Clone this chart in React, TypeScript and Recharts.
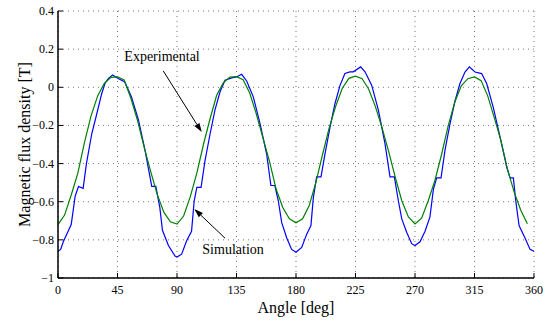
import { LineChart, Line, XAxis, YAxis, CartesianGrid, ReferenceLine, ReferenceDot } from 'recharts';

// simulated flux density (deg, T)
const simAngle = [
  0, 2, 4, 10, 13, 15.5, 19, 21.5, 25.5, 29.3, 33, 35.5, 38, 41.3, 45.5, 50.5, 55.5, 60.8, 65.8, 70.9, 74, 77, 79, 83.5, 88.5, 90,
  93.5, 97.3, 101, 103, 105, 108.2, 111.2, 115, 118.7, 122.5, 126.3, 131.4, 135, 138.9, 142.7, 147.7, 152.8, 157.8, 161, 164, 166.6, 169.2, 173, 176.7, 180,
  184.3, 188.1, 191.3, 193.1, 195.6, 198.9, 201.9, 205.7, 209.5, 213.3, 217, 220.8, 223.3, 228.9, 232.2, 237.3, 242.3, 247.3, 251.1, 254.4, 257.4, 260, 263.7, 267.5, 270,
  273.8, 277.6, 281.3, 283.9, 286.4, 289.7, 292.7, 296.5, 300.3, 304, 307.8, 311.1, 315.4, 320.4, 324.2, 329.2, 334.3, 339.4, 341.9, 344.4, 346.2, 348.7, 353.2, 357, 360,
];
const simValue = [
  -0.86, -0.85, -0.81, -0.72, -0.57, -0.52, -0.53, -0.4, -0.245, -0.14, -0.035, 0.02, 0.045, 0.065, 0.046, 0.028, -0.05, -0.17, -0.33, -0.52, -0.52, -0.63, -0.75, -0.83, -0.885, -0.89,
  -0.875, -0.805, -0.755, -0.595, -0.525, -0.525, -0.385, -0.245, -0.12, -0.025, 0.037, 0.049, 0.054, 0.068, 0.033, -0.05, -0.19, -0.35, -0.515, -0.515, -0.595, -0.71, -0.79, -0.85, -0.865,
  -0.84, -0.77, -0.725, -0.58, -0.47, -0.47, -0.35, -0.21, -0.085, 0.01, 0.072, 0.081, 0.081, 0.107, 0.081, 0.01, -0.12, -0.295, -0.47, -0.47, -0.595, -0.69, -0.76, -0.82, -0.83,
  -0.81, -0.755, -0.68, -0.535, -0.475, -0.475, -0.33, -0.19, -0.07, 0.02, 0.08, 0.107, 0.08, 0.072, 0.02, -0.105, -0.26, -0.42, -0.475, -0.475, -0.595, -0.725, -0.79, -0.85, -0.86,
];

// measured, every 5 deg from 0 to 355
const expAngle = Array.from({ length: 72 }, (_, i) => i * 5);
const expValue = [
  -0.72, -0.67, -0.565, -0.45, -0.29, -0.15, -0.045, 0.02, 0.052, 0.055, 0.038, -0.055, -0.17, -0.31, -0.44, -0.56, -0.655, -0.705,
  -0.717, -0.675, -0.575, -0.45, -0.3, -0.165, -0.042, 0.023, 0.054, 0.056, 0.04, -0.03, -0.14, -0.265, -0.39, -0.535, -0.63, -0.69,
  -0.71, -0.69, -0.62, -0.5, -0.355, -0.215, -0.1, -0.005, 0.047, 0.058, 0.045, -0.01, -0.1, -0.21, -0.335, -0.47, -0.595, -0.68,
  -0.717, -0.686, -0.595, -0.49, -0.355, -0.205, -0.08, 0.008, 0.045, 0.054, 0.035, -0.045, -0.16, -0.28, -0.43, -0.55, -0.645, -0.715,
];

const xTicks = [0, 45, 90, 135, 180, 225, 270, 315, 360];
const yTicks = [-1, -0.8, -0.6, -0.4, -0.2, 0, 0.2, 0.4];

// arrow callouts: label position, arrow tail and head (deg, T)
const notes = [
  { text: 'Experimental', at: [78.7, 0.137], from: [79.6, 0.086], to: [108.7, -0.235] },
  { text: 'Simulation', at: [132.4, -0.874], from: [126.3, -0.791], to: [103.1, -0.638] },
];

const simData = simAngle.map((a, i) => ({ angle: a, value: simValue[i] }));
const expData = expAngle.map((a, i) => ({ angle: a, value: expValue[i] }));

const FONT = 'Liberation Serif, serif';
const fmt = (v: number) => (v < 0 ? '\u2212' + String(Math.abs(v)) : String(v));

const BottomTick = ({ x, y, payload }: any) => (
  <g>
    <line x1={x} x2={x} y1={y} y2={y - 5} stroke="#000" />
    <text x={x} y={y + 15.5} textAnchor="middle" fontSize={12} fontFamily={FONT} fill="#000">{payload.value}</text>
  </g>
);
const TopTick = ({ x, y }: any) => <line x1={x} x2={x} y1={y} y2={y + 5} stroke="#000" />;
const LeftTick = ({ x, y, payload }: any) => (
  <g>
    <line x1={x} x2={x + 5} y1={y} y2={y} stroke="#000" />
    <text x={x - 4} y={y + 4} textAnchor="end" fontSize={12} fontFamily={FONT} fill="#000">{fmt(payload.value)}</text>
  </g>
);
const RightTick = ({ x, y }: any) => <line x1={x} x2={x - 5} y1={y} y2={y} stroke="#000" />;

const YLabel = ({ viewBox }: any) => {
  const x = viewBox.x + 30;
  const y = viewBox.y + viewBox.height / 2;
  return (
    <text x={x} y={y} transform={`rotate(-90, ${x}, ${y})`} textAnchor="middle" fontSize={16} fontFamily={FONT} fill="#000">
      Magnetic flux density [T]
    </text>
  );
};

const Arrow = ({ x1, y1, x2, y2 }: any) => {
  const ang = Math.atan2(y2 - y1, x2 - x1);
  const len = 9;
  const w = 3;
  const bx = x2 - len * Math.cos(ang);
  const by = y2 - len * Math.sin(ang);
  const px = -Math.sin(ang) * w;
  const py = Math.cos(ang) * w;
  return (
    <g>
      <line x1={x1} y1={y1} x2={bx} y2={by} stroke="#000" strokeWidth={1} />
      <polygon points={`${x2},${y2} ${bx + px},${by + py} ${bx - px},${by - py}`} fill="#000" />
    </g>
  );
};

export default function App() {
  return (
    <div style={{ position: 'absolute', left: 0, top: 0, background: '#fff' }}>
      <LineChart width={548} height={322} margin={{ top: 11, right: 14, bottom: 0, left: 0 }}>
        <CartesianGrid xAxisId="bottom" yAxisId="left" stroke="#777" strokeDasharray="1 4" />
        <XAxis
          xAxisId="bottom"
          dataKey="angle"
          type="number"
          domain={[0, 360]}
          ticks={xTicks}
          height={44}
          tickSize={0}
          tickMargin={0}
          tickLine={false}
          axisLine={{ stroke: '#000', strokeWidth: 1.5 }}
          tick={<BottomTick />}
          interval={0}
          label={{ value: 'Angle [deg]', position: 'insideBottom', offset: 9, fontSize: 16, fontFamily: FONT, fill: '#000' }}
        />
        <XAxis
          xAxisId="top"
          orientation="top"
          dataKey="angle"
          type="number"
          domain={[0, 360]}
          ticks={xTicks}
          height={0}
          tickSize={0}
          tickMargin={0}
          tickLine={false}
          axisLine={{ stroke: '#000' }}
          tick={<TopTick />}
          interval={0}
        />
        <YAxis
          yAxisId="left"
          type="number"
          domain={[-1, 0.4]}
          ticks={yTicks}
          width={58}
          tickSize={0}
          tickMargin={0}
          tickLine={false}
          axisLine={{ stroke: '#000', strokeWidth: 1.5 }}
          tick={<LeftTick />}
          interval={0}
          label={<YLabel />}
        />
        <YAxis
          yAxisId="right"
          orientation="right"
          type="number"
          domain={[-1, 0.4]}
          ticks={yTicks}
          width={0}
          tickSize={0}
          tickMargin={0}
          tickLine={false}
          axisLine={{ stroke: '#000', strokeWidth: 1.5 }}
          tick={<RightTick />}
          interval={0}
        />
        <Line
          xAxisId="bottom"
          yAxisId="left"
          data={simData}
          dataKey="value"
          type="linear"
          stroke="#0000ff"
          strokeWidth={1.2}
          dot={false}
          isAnimationActive={false}
        />
        <Line
          xAxisId="bottom"
          yAxisId="left"
          data={expData}
          dataKey="value"
          type="linear"
          stroke="#008000"
          strokeWidth={1.2}
          dot={false}
          isAnimationActive={false}
        />
        {notes.map((n) => (
          <ReferenceLine
            key={n.text + '-arrow'}
            xAxisId="bottom"
            yAxisId="left"
            segment={[{ x: n.from[0], y: n.from[1] }, { x: n.to[0], y: n.to[1] }]}
            shape={<Arrow />}
          />
        ))}
        {notes.map((n) => (
          <ReferenceDot
            key={n.text}
            xAxisId="bottom"
            yAxisId="left"
            x={n.at[0]}
            y={n.at[1]}
            r={0}
            shape={(p: any) => (
              <text x={p.cx} y={p.cy} textAnchor="middle" fontSize={14} fontFamily={FONT} fill="#000">{n.text}</text>
            )}
          />
        ))}
      </LineChart>
    </div>
  );
}
